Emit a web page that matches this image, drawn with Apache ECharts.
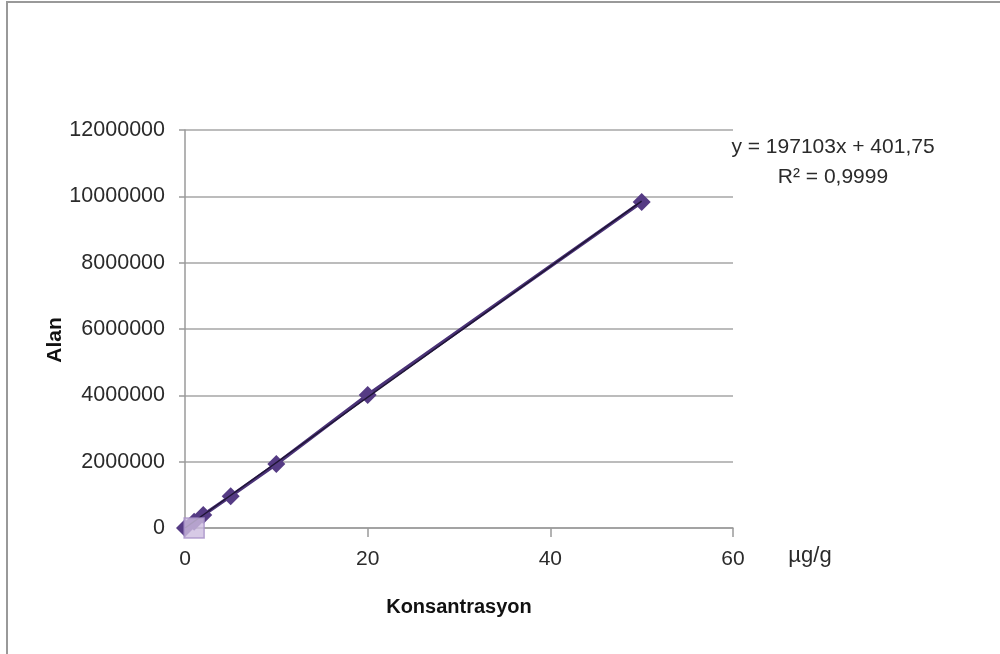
<!DOCTYPE html>
<html>
<head>
<meta charset="utf-8">
<script src="https://cdn.jsdelivr.net/npm/echarts@6/dist/echarts.min.js"></script>
<style>html,body{margin:0;padding:0;background:#fff}#c{width:1000px;height:654px}</style>
</head>
<body>
<div id="c"></div>
<script>
// Data
var concX = [0, 1, 2, 5, 10, 20, 50];
var areaY = [0, 190000, 390000, 960000, 1930000, 4010000, 9830000];
var blankX = [1];
var blankY = [0];
var trendX = [0, 50];
var trendY = [401.75, 9855551.75];
var yTicks = [0, 2000000, 4000000, 6000000, 8000000, 10000000, 12000000];
var xTicks = [0, 20, 40, 60];
var equationText = 'y = 197103x + 401,75';
var r2Text = 'R² = 0,9999';

var FONT = 'Liberation Sans';
var chart = echarts.init(document.getElementById('c'), null, {renderer: 'canvas'});
function pairs(xs, ys) { return xs.map(function (x, i) { return [x, ys[i]]; }); }

chart.setOption({
  animation: false,
  backgroundColor: '#fff',
  grid: {left: 185, right: 267, top: 130, bottom: 126, containLabel: false},
  xAxis: {
    type: 'value', min: xTicks[0], max: xTicks[xTicks.length - 1], interval: 20,
    axisLine: {show: true, onZero: false, lineStyle: {color: '#9a9a9a', width: 1.5}},
    axisTick: {show: true, inside: false, length: 9, lineStyle: {color: '#9a9a9a', width: 1.5}},
    splitLine: {show: false},
    axisLabel: {fontFamily: FONT, fontSize: 21, color: '#2b2b2b', margin: 21}
  },
  yAxis: {
    type: 'value', min: yTicks[0], max: yTicks[yTicks.length - 1], interval: 2000000,
    axisLine: {show: true, lineStyle: {color: '#9a9a9a', width: 1.5}},
    axisTick: {show: true, inside: false, length: 6, lineStyle: {color: '#9a9a9a', width: 1.5}},
    splitLine: {show: true, lineStyle: {color: '#a6a6a6', width: 1.5}},
    axisLabel: {fontFamily: FONT, fontSize: 21.5, color: '#2b2b2b', margin: 20,
      formatter: function (v) { return String(v); }}
  },
  series: [
    {
      type: 'line', data: pairs(concX, areaY), symbol: 'diamond', symbolSize: 18,
      itemStyle: {color: '#553b84'}, lineStyle: {color: '#4a3277', width: 3.5}, z: 3
    },
    {
      type: 'line', data: pairs(trendX, trendY), symbol: 'none',
      lineStyle: {color: '#1f1535', width: 1.5}, z: 4
    },
    {
      type: 'scatter', data: pairs(blankX, blankY), symbol: 'rect', symbolSize: 20,
      itemStyle: {color: '#cdbde0', borderColor: '#a58fc6', borderWidth: 1.5}, z: 5
    }
  ],
  graphic: [
    {type: 'rect', shape: {x: 7, y: 2, width: 1100, height: 800}, style: {fill: 'none', stroke: '#999', lineWidth: 2}, silent: true},
    {type: 'text', x: 55, y: 340, rotation: Math.PI / 2, style: {text: 'Alan', font: 'bold 21px ' + FONT, fill: '#111', align: 'center', verticalAlign: 'middle'}},
    {type: 'text', x: 459, y: 607, style: {text: 'Konsantrasyon', font: 'bold 20px ' + FONT, fill: '#111', align: 'center', verticalAlign: 'middle'}},
    {type: 'text', x: 810, y: 556, style: {text: 'µg/g', font: '22px ' + FONT, fill: '#2b2b2b', align: 'center', verticalAlign: 'middle'}},
    {type: 'text', x: 833, y: 147, style: {text: equationText, font: '21px ' + FONT, fill: '#2b2b2b', align: 'center', verticalAlign: 'middle'}},
    {type: 'text', x: 833, y: 177, style: {text: r2Text, font: '21px ' + FONT, fill: '#2b2b2b', align: 'center', verticalAlign: 'middle'}}
  ]
});
</script>
</body>
</html>
